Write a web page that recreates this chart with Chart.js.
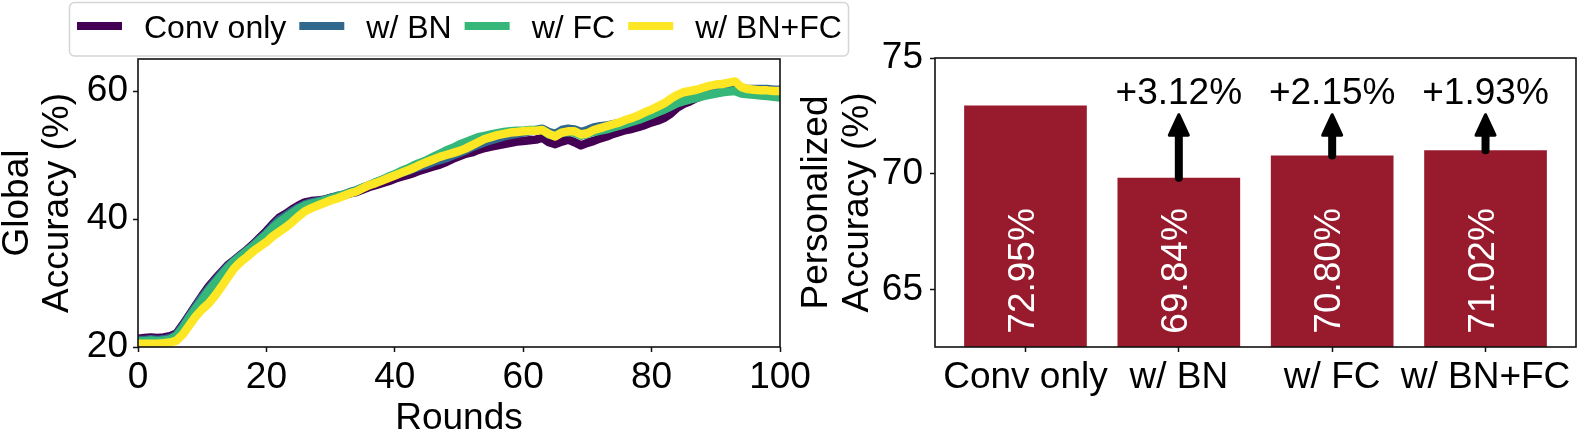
<!DOCTYPE html>
<html>
<head>
<meta charset="utf-8">
<script src="https://cdn.jsdelivr.net/npm/chart.js@4.4.1/dist/chart.umd.min.js"></script>
<style>
  html, body { margin: 0; padding: 0; background: #fff; }
  #wrap { position: relative; width: 1577px; height: 429px; overflow: hidden; }
  canvas { position: absolute; top: 0; }
  #left { left: 0; }
  #right { left: 790px; }
</style>
</head>
<body>
<div id="wrap">
  <canvas id="left" width="860" height="429" style="width:860px;height:429px"></canvas>
  <canvas id="right" width="787" height="429" style="width:787px;height:429px"></canvas>
</div>
<script>
// ---- data: left panel (global accuracy per round) ----
const rounds = Array.from({ length: 101 }, (_, i) => i);

const convOnly = [
  21.3, 21.4, 21.5, 21.4, 21.5, 21.7, 22.1, 23.5, 25.0, 26.5,
  28.0, 29.4, 30.6, 31.7, 32.8, 33.6, 34.4, 35.2, 36.1, 37.1,
  38.1, 39.2, 40.2, 40.8, 41.5, 42.1, 42.6, 42.8, 42.9, 43.0,
  43.3, 43.5, 43.7, 44.0, 44.2, 44.6, 45.0, 45.3, 45.6, 45.9,
  46.3, 46.6, 46.9, 47.2, 47.6, 47.9, 48.2, 48.5, 48.9, 49.4,
  49.8, 50.2, 50.4, 50.8, 51.1, 51.3, 51.5, 51.7, 51.9, 52.1,
  52.2, 52.3, 52.4, 52.7, 52.0, 51.7, 52.1, 52.4, 52.0, 51.5,
  51.9, 52.2, 52.6, 52.9, 53.3, 53.6, 53.9, 54.1, 54.4, 54.7,
  55.1, 55.4, 55.8, 56.5, 57.4, 58.0, 58.4, 58.9, 59.3, 59.6,
  59.9, 60.1, 60.3, 60.4, 60.1, 60.0, 60.0, 59.9, 59.9, 59.9,
  59.8
];
const withBN = [
  21.1, 21.1, 21.2, 21.1, 21.2, 21.4, 21.9, 23.3, 24.8, 26.3,
  27.8, 29.1, 30.3, 31.5, 32.6, 33.5, 34.3, 35.1, 35.9, 36.9,
  37.8, 38.9, 39.9, 40.5, 41.2, 41.8, 42.3, 42.6, 42.8, 43.0,
  43.3, 43.6, 43.8, 44.2, 44.5, 44.9, 45.3, 45.7, 46.1, 46.5,
  46.9, 47.2, 47.5, 47.9, 48.2, 48.5, 48.9, 49.2, 49.5, 49.9,
  50.3, 50.7, 51.2, 51.6, 52.0, 52.3, 52.6, 52.9, 53.1, 53.3,
  53.5, 53.7, 53.9, 54.1, 53.6, 53.3, 53.9, 54.1, 54.0, 53.6,
  53.9, 54.3, 54.5, 54.6, 54.8, 55.0, 55.3, 55.6, 55.9, 56.3,
  56.7, 57.1, 57.5, 58.1, 58.8, 59.2, 59.5, 59.8, 60.1, 60.3,
  60.5, 60.7, 60.8, 61.0, 60.4, 60.3, 60.3, 60.3, 60.3, 60.2,
  60.2
];
const withFC = [
  20.9, 20.9, 21.0, 20.9, 21.0, 21.2, 21.7, 23.0, 24.6, 26.0,
  27.4, 28.8, 30.0, 31.2, 32.4, 33.4, 34.2, 35.0, 35.8, 36.7,
  37.6, 38.6, 39.5, 40.2, 40.9, 41.6, 42.1, 42.4, 42.6, 42.9,
  43.2, 43.5, 43.8, 44.1, 44.4, 44.9, 45.3, 45.7, 46.1, 46.6,
  47.0, 47.5, 47.9, 48.4, 48.8, 49.2, 49.7, 50.2, 50.7, 51.1,
  51.6, 52.0, 52.4, 52.8, 53.0, 53.2, 53.4, 53.6, 53.7, 53.8,
  53.8, 53.9, 53.9, 53.9, 53.2, 53.0, 53.5, 53.6, 53.5, 53.0,
  53.3, 53.6, 53.8, 54.0, 54.3, 54.6, 54.9, 55.2, 55.5, 55.9,
  56.3, 56.7, 57.1, 57.6, 58.1, 58.4, 58.7, 58.9, 59.2, 59.4,
  59.6, 59.8, 59.9, 60.0, 59.6, 59.5, 59.4, 59.3, 59.2, 59.1,
  59.0
];
const withBNFC = [
  20.5, 20.5, 20.5, 20.5, 20.6, 20.7, 21.0, 22.0, 23.4, 24.8,
  25.9, 26.8, 28.0, 29.4, 30.9, 32.3, 33.3, 34.1, 35.0, 35.7,
  36.4, 37.3, 38.0, 38.7, 39.5, 40.4, 41.2, 41.7, 42.1, 42.5,
  42.9, 43.2, 43.6, 44.0, 44.3, 44.8, 45.3, 45.6, 46.0, 46.4,
  46.8, 47.2, 47.6, 48.0, 48.5, 48.9, 49.3, 49.7, 50.0, 50.3,
  50.6, 51.0, 51.5, 52.0, 52.5, 52.8, 53.1, 53.3, 53.5, 53.6,
  53.7, 53.8, 53.8, 53.9, 53.3, 52.9, 53.5, 53.7, 53.7, 53.2,
  53.4, 53.9, 54.2, 54.5, 54.8, 55.1, 55.5, 55.8, 56.2, 56.7,
  57.1, 57.6, 58.1, 58.8, 59.4, 59.8, 60.0, 60.2, 60.5, 60.8,
  61.0, 61.1, 61.3, 61.5, 60.6, 60.3, 60.2, 60.1, 60.1, 60.0,
  60.0
];
const seriesNames = ['Conv only', 'w/ BN', 'w/ FC', 'w/ BN+FC'];
const seriesColors = ['#440154', '#31688e', '#35b779', '#fde725'];
const xTicks = [0, 20, 40, 60, 80, 100];
const yTicksLeft = [20, 40, 60];

// ---- data: right panel (personalized accuracy) ----
const methods = ['Conv only', 'w/ BN', 'w/ FC', 'w/ BN+FC'];
const personalized = [72.95, 69.84, 70.80, 71.02];
const gains = [null, 3.12, 2.15, 1.93];
const yTicksRight = [65, 70, 75];

const FONT = '"Liberation Sans", Arial, Helvetica, sans-serif';
const BAR_RED = '#981a2d';

// box around the plot area, like matplotlib spines
const frame = {
  id: 'frame',
  afterDraw(chart) {
    const { ctx, chartArea: a } = chart;
    ctx.save();
    ctx.strokeStyle = '#111';
    ctx.lineWidth = 1.6;
    ctx.strokeRect(a.left, a.top, a.right - a.left, a.bottom - a.top);
    ctx.restore();
  }
};

// legend drawn in one row above the left panel
const legendRow = {
  id: 'legendRow',
  afterDraw(chart) {
    const ctx = chart.ctx;
    ctx.save();
    ctx.strokeStyle = '#d5d5d5';
    ctx.lineWidth = 1.5;
    ctx.beginPath();
    ctx.roundRect(69.5, 2.5, 779, 53.5, 5);
    ctx.stroke();
    ctx.font = '32px ' + FONT;
    ctx.textBaseline = 'alphabetic';
    let x = 77;
    chart.data.datasets.forEach(ds => {
      ctx.fillStyle = ds.borderColor;
      ctx.fillRect(x, 22, 45, 8);
      x += 45 + 22;
      ctx.fillStyle = '#000';
      ctx.fillText(ds.label, x, 38);
      x += ctx.measureText(ds.label).width + 13;
    });
    ctx.restore();
  }
};

// rotated value labels inside bars, arrows and gain text
const barNotes = {
  id: 'barNotes',
  afterDatasetsDraw(chart) {
    const ctx = chart.ctx;
    const ys = chart.scales.y;
    const bars = chart.getDatasetMeta(0).data;
    ctx.save();
    ctx.font = '37px ' + FONT;
    bars.forEach((bar, i) => {
      ctx.save();
      ctx.translate(bar.x - 2, ys.getPixelForValue(65.82));
      ctx.rotate(-Math.PI / 2);
      ctx.fillStyle = '#fff';
      ctx.textAlign = 'center';
      ctx.textBaseline = 'middle';
      ctx.fillText(personalized[i].toFixed(2) + '%', 0, 0);
      ctx.restore();

      if (gains[i] == null) return;
      const tip = ys.getPixelForValue(72.62);
      const headH = 22, headW = 19;
      ctx.strokeStyle = '#000';
      ctx.fillStyle = '#000';
      ctx.lineCap = 'round';
      ctx.lineJoin = 'round';
      ctx.lineWidth = 8;
      ctx.beginPath();
      ctx.moveTo(bar.x, bar.y);
      ctx.lineTo(bar.x, tip + headH - 2);
      ctx.stroke();
      ctx.lineWidth = 3;
      ctx.beginPath();
      ctx.moveTo(bar.x, tip + 1.5);
      ctx.lineTo(bar.x + headW / 2, tip + headH);
      ctx.lineTo(bar.x - headW / 2, tip + headH);
      ctx.closePath();
      ctx.fill();
      ctx.stroke();

      ctx.textAlign = 'center';
      ctx.textBaseline = 'alphabetic';
      ctx.fillText('+' + gains[i].toFixed(2) + '%', bar.x, ys.getPixelForValue(73.0));
    });
    ctx.restore();
  }
};

const tickFont = { size: 37, family: FONT };
const axisGrid = { drawOnChartArea: false, drawTicks: true, tickLength: 5, tickColor: '#111', tickWidth: 1.5 };

new Chart(document.getElementById('left'), {
  type: 'line',
  data: {
    labels: rounds,
    datasets: [convOnly, withBN, withFC, withBNFC].map((vals, i) => ({
      label: seriesNames[i],
      data: vals,
      borderColor: seriesColors[i],
      backgroundColor: seriesColors[i],
      order: 3 - i,
      clip: 0
    }))
  },
  options: {
    responsive: false,
    animation: false,
    devicePixelRatio: 1,
    layout: { padding: { left: 0, right: 80, top: 59, bottom: 0 } },
    plugins: { legend: { display: false }, tooltip: { enabled: false } },
    elements: {
      point: { radius: 0 },
      line: { tension: 0, borderWidth: 8.5, borderJoinStyle: 'round', fill: false }
    },
    scales: {
      x: {
        type: 'linear', min: 0, max: 100,
        afterBuildTicks: s => { s.ticks = xTicks.map(v => ({ value: v })); },
        afterFit: s => { s.height = 82; },
        ticks: { color: '#000', font: tickFont, padding: 4, maxRotation: 0, autoSkip: false },
        grid: axisGrid,
        border: { display: false },
        title: {
          display: true, text: 'Rounds', color: '#000',
          font: { size: 37, family: FONT, lineHeight: 1 },
          padding: { top: 0, bottom: -8.5 }
        }
      },
      y: {
        type: 'linear', min: 20, max: 65,
        afterBuildTicks: s => { s.ticks = yTicksLeft.map(v => ({ value: v })); },
        afterFit: s => { s.width = 138; },
        ticks: { color: '#000', font: tickFont, padding: 5 },
        grid: axisGrid,
        border: { display: false },
        title: {
          display: true, text: ['Global', 'Accuracy (%)'], color: '#000',
          font: { size: 37, family: FONT, lineHeight: 40 / 37 },
          padding: { top: -2, bottom: 0 }
        }
      }
    }
  },
  plugins: [frame, legendRow]
});

new Chart(document.getElementById('right'), {
  type: 'bar',
  data: {
    datasets: [{
      label: 'Personalized accuracy',
      data: methods.map((m, i) => ({ x: i, y: personalized[i] })),
      backgroundColor: BAR_RED,
      borderWidth: 0,
      categoryPercentage: 1,
      barPercentage: 0.8
    }]
  },
  options: {
    responsive: false,
    animation: false,
    devicePixelRatio: 1,
    layout: { padding: { left: 0, right: 1, top: 58, bottom: 0 } },
    plugins: { legend: { display: false }, tooltip: { enabled: false } },
    scales: {
      x: {
        type: 'linear', min: -0.59, max: 3.59, offset: false,
        afterBuildTicks: s => { s.ticks = methods.map((m, i) => ({ value: i })); },
        afterFit: s => { s.height = 82; },
        ticks: {
          color: '#000', font: tickFont, padding: 4, maxRotation: 0, autoSkip: false,
          callback: v => methods[v]
        },
        grid: Object.assign({ offset: false }, axisGrid),
        border: { display: false }
      },
      y: {
        type: 'linear', min: 62.54, max: 75, beginAtZero: false,
        afterBuildTicks: s => { s.ticks = yTicksRight.map(v => ({ value: v })); },
        afterFit: s => { s.width = 145; },
        ticks: { color: '#000', font: tickFont, padding: 7 },
        grid: axisGrid,
        border: { display: false },
        title: {
          display: true, text: ['Personalized', 'Accuracy (%)'], color: '#000',
          font: { size: 37, family: FONT, lineHeight: 41 / 37 },
          padding: { top: 6, bottom: 0 }
        }
      }
    }
  },
  plugins: [frame, barNotes]
});
</script>
</body>
</html>
